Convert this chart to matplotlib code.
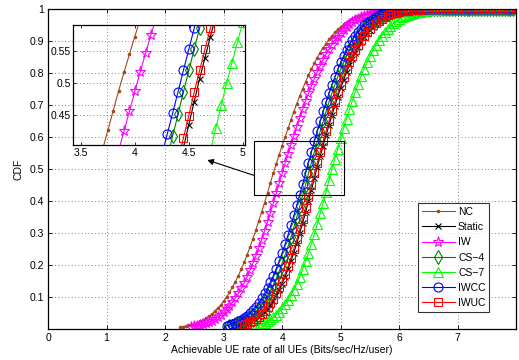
import numpy as np
import matplotlib
matplotlib.use("Agg")
import matplotlib.pyplot as plt
from matplotlib.patches import Rectangle

plt.rcParams['font.family'] = ['Liberation Sans', 'DejaVu Sans']

# ---------------- data (CDF values on a 0.05 rate grid) ----------------
step = 0.05
labels = ["NC", "Static", "IW", "CS\u22124", "CS\u22127", "IWCC", "IWUC"]

nc_start = 2.25
nc_cdf = [
    0.006, 0.007, 0.009, 0.011, 0.013, 0.016, 0.020, 0.024, 0.028, 0.034,
    0.040, 0.047, 0.056, 0.065, 0.075, 0.087, 0.100, 0.115, 0.130, 0.148,
    0.166, 0.187, 0.208, 0.231, 0.256, 0.282, 0.309, 0.337, 0.366, 0.395,
    0.426, 0.457, 0.488,
    0.517, 0.545, 0.573, 0.600, 0.627, 0.653, 0.679, 0.704, 0.728, 0.751,
    0.772, 0.793, 0.813, 0.831, 0.848, 0.864, 0.879, 0.892, 0.905, 0.916,
    0.927, 0.936, 0.944, 0.952, 0.958, 0.964, 0.970, 0.974, 0.978, 0.982,
    0.984, 0.987, 0.989, 0.991, 0.993, 0.994, 0.995, 0.996, 0.997, 0.997,
    0.998, 0.998, 0.999, 0.999, 0.999, 0.999,
    1.0, 1.0, 1.0, 1.0, 1.0, 1.0, 1.0, 1.0, 1.0, 1.0,
    1.0, 1.0, 1.0, 1.0, 1.0, 1.0, 1.0, 1.0, 1.0, 1.0,
    1.0, 1.0, 1.0, 1.0, 1.0, 1.0, 1.0, 1.0, 1.0, 1.0,
    1.0, 1.0, 1.0, 1.0, 1.0, 1.0,
]

static_start = 3.30
static_cdf = [
    0.010, 0.012, 0.015, 0.019, 0.024, 0.029, 0.036, 0.044, 0.053, 0.063,
    0.076, 0.089, 0.105, 0.122, 0.142, 0.163, 0.187, 0.212, 0.239, 0.268,
    0.299, 0.331, 0.365, 0.399, 0.435, 0.471,
    0.507, 0.540, 0.573, 0.605, 0.637, 0.668, 0.697, 0.726, 0.753, 0.778,
    0.802, 0.825, 0.845, 0.864, 0.882, 0.897, 0.912, 0.924, 0.935, 0.945,
    0.954, 0.961, 0.968, 0.973, 0.978, 0.982, 0.986, 0.988, 0.991, 0.993,
    0.994, 0.995, 0.996, 0.997, 0.998, 0.998, 0.999, 0.999, 0.999, 0.999,
    1.0, 1.0, 1.0, 1.0, 1.0, 1.0, 1.0, 1.0, 1.0, 1.0,
    1.0, 1.0, 1.0, 1.0, 1.0, 1.0, 1.0, 1.0, 1.0, 1.0,
    1.0, 1.0, 1.0, 1.0, 1.0, 1.0, 1.0, 1.0,
]

iw_start = 2.45
iw_cdf = [
    0.006, 0.008, 0.010, 0.012, 0.015, 0.018, 0.022, 0.026, 0.032, 0.038,
    0.045, 0.053, 0.062, 0.072, 0.084, 0.097, 0.111, 0.127, 0.144, 0.163,
    0.183, 0.205, 0.228, 0.252, 0.279, 0.306, 0.334, 0.364, 0.394, 0.425,
    0.456, 0.487,
    0.518, 0.547, 0.576, 0.604, 0.632, 0.660, 0.686, 0.712, 0.736, 0.760,
    0.782, 0.803, 0.823, 0.841, 0.859, 0.874, 0.889, 0.902, 0.914, 0.925,
    0.935, 0.944, 0.952, 0.959, 0.965, 0.970, 0.975, 0.979, 0.982, 0.985,
    0.988, 0.990, 0.992, 0.993, 0.995, 0.996, 0.997, 0.998, 0.998, 0.999,
    0.999, 0.999, 0.999, 0.999,
    1.0, 1.0, 1.0, 1.0, 1.0, 1.0, 1.0, 1.0, 1.0, 1.0,
    1.0, 1.0, 1.0, 1.0, 1.0, 1.0, 1.0, 1.0, 1.0, 1.0,
    1.0, 1.0, 1.0, 1.0, 1.0, 1.0, 1.0, 1.0, 1.0, 1.0,
    1.0, 1.0, 1.0, 1.0, 1.0,
]

cs4_start = 3.10
cs4_cdf = [
    0.008, 0.010, 0.013, 0.016, 0.020, 0.025, 0.030, 0.037, 0.044, 0.053,
    0.064, 0.075, 0.088, 0.103, 0.120, 0.138, 0.159, 0.181, 0.205, 0.231,
    0.258, 0.287, 0.318, 0.350, 0.383, 0.417, 0.451, 0.486,
    0.520, 0.553, 0.586, 0.618, 0.649, 0.680, 0.709, 0.737, 0.763, 0.788,
    0.811, 0.833, 0.853, 0.871, 0.888, 0.903, 0.917, 0.929, 0.939, 0.949,
    0.957, 0.964, 0.970, 0.975, 0.980, 0.984, 0.987, 0.989, 0.991, 0.993,
    0.995, 0.996, 0.997, 0.997, 0.998, 0.998, 0.999, 0.999, 0.999,
    1.0, 1.0, 1.0, 1.0, 1.0, 1.0, 1.0, 1.0, 1.0, 1.0,
    1.0, 1.0, 1.0, 1.0, 1.0, 1.0, 1.0, 1.0, 1.0, 1.0,
    1.0, 1.0, 1.0, 1.0, 1.0, 1.0, 1.0, 1.0, 1.0, 1.0,
    1.0,
]

cs7_start = 3.50
cs7_cdf = [
    0.008, 0.010, 0.013, 0.016, 0.020, 0.025, 0.030, 0.037, 0.045, 0.054,
    0.065, 0.077, 0.090, 0.106, 0.123, 0.142, 0.163, 0.186, 0.211, 0.238,
    0.266, 0.296, 0.328, 0.361, 0.394, 0.429, 0.465,
    0.500, 0.532, 0.564, 0.596, 0.627, 0.657, 0.686, 0.714, 0.741, 0.766,
    0.790, 0.813, 0.833, 0.853, 0.871, 0.887, 0.902, 0.915, 0.927, 0.937,
    0.947, 0.955, 0.962, 0.968, 0.974, 0.978, 0.982, 0.985, 0.988, 0.990,
    0.992, 0.994, 0.995, 0.996, 0.997, 0.998, 0.998, 0.999, 0.999, 0.999,
    0.999, 0.999,
    1.0, 1.0, 1.0, 1.0, 1.0, 1.0, 1.0, 1.0, 1.0, 1.0,
    1.0, 1.0, 1.0, 1.0, 1.0, 1.0, 1.0, 1.0, 1.0, 1.0,
    1.0,
]

iwcc_start = 3.05
iwcc_cdf = [
    0.010, 0.013, 0.016, 0.019, 0.024, 0.029, 0.035, 0.042, 0.050, 0.060,
    0.070, 0.082, 0.096, 0.111, 0.128, 0.147, 0.167, 0.189, 0.213, 0.238,
    0.265, 0.294, 0.324, 0.355, 0.387, 0.420, 0.453, 0.486,
    0.520, 0.553, 0.586, 0.618, 0.649, 0.680, 0.709, 0.737, 0.763, 0.788,
    0.811, 0.833, 0.853, 0.871, 0.888, 0.903, 0.917, 0.929, 0.939, 0.949,
    0.957, 0.964, 0.970, 0.975, 0.980, 0.984, 0.987, 0.989, 0.991, 0.993,
    0.995, 0.996, 0.997, 0.997, 0.998, 0.998, 0.999, 0.999, 0.999,
    1.0, 1.0, 1.0, 1.0, 1.0, 1.0, 1.0, 1.0, 1.0, 1.0,
    1.0, 1.0, 1.0, 1.0, 1.0, 1.0, 1.0, 1.0, 1.0, 1.0,
    1.0, 1.0, 1.0, 1.0, 1.0, 1.0, 1.0, 1.0, 1.0, 1.0,
    1.0, 1.0,
]

iwuc_start = 3.30
iwuc_cdf = [
    0.011, 0.013, 0.017, 0.021, 0.026, 0.032, 0.039, 0.047, 0.057, 0.068,
    0.081, 0.095, 0.112, 0.130, 0.150, 0.172, 0.196, 0.223, 0.251, 0.280,
    0.312, 0.345, 0.379, 0.414, 0.449, 0.486,
    0.520, 0.553, 0.586, 0.618, 0.649, 0.680, 0.709, 0.737, 0.763, 0.788,
    0.811, 0.833, 0.853, 0.871, 0.888, 0.903, 0.917, 0.929, 0.939, 0.949,
    0.957, 0.964, 0.970, 0.975, 0.980, 0.984, 0.987, 0.989, 0.991, 0.993,
    0.995, 0.996, 0.997, 0.997, 0.998, 0.998, 0.999, 0.999, 0.999,
    1.0, 1.0, 1.0, 1.0, 1.0, 1.0, 1.0, 1.0, 1.0, 1.0,
    1.0, 1.0, 1.0, 1.0, 1.0, 1.0, 1.0, 1.0, 1.0, 1.0,
    1.0, 1.0, 1.0, 1.0, 1.0, 1.0, 1.0, 1.0, 1.0,
]

xticks_main = [0, 1, 2, 3, 4, 5, 6, 7]
yticks_main = [0.1, 0.2, 0.3, 0.4, 0.5, 0.6, 0.7, 0.8, 0.9, 1.0]
ytick_labels_main = ["0.1", "0.2", "0.3", "0.4", "0.5", "0.6", "0.7", "0.8", "0.9", "1"]
xticks_inset = [3.5, 4.0, 4.5, 5.0]
xtick_labels_inset = ["3.5", "4", "4.5", "5"]
yticks_inset = [0.45, 0.5, 0.55]
ytick_labels_inset = ["0.45", "0.5", "0.55"]

zoom_x = (3.52, 5.06)
zoom_y = (0.419, 0.588)
inset_xlim = (3.43, 5.02)
inset_ylim = (0.403, 0.591)

series = [
    (nc_start, nc_cdf),
    (static_start, static_cdf),
    (iw_start, iw_cdf),
    (cs4_start, cs4_cdf),
    (cs7_start, cs7_cdf),
    (iwcc_start, iwcc_cdf),
    (iwuc_start, iwuc_cdf),
]

styles = [
    dict(color="#A34A1C", marker=".", ms=3.5, mfc="#A34A1C"),
    dict(color="black", marker="x", ms=4.5, mfc="none"),
    dict(color="#FF00FF", marker="*", ms=8, mfc="none"),
    dict(color="#008000", marker="d", ms=7, mfc="none"),
    dict(color="#00FF00", marker="^", ms=6.5, mfc="none"),
    dict(color="#0000FF", marker="o", ms=6.5, mfc="none"),
    dict(color="#FF0000", marker="s", ms=5.5, mfc="none"),
]

FS = 7.5

# ---------------- figure ----------------
fig = plt.figure(figsize=(5.19, 3.60), dpi=100)
ax = fig.add_axes([0.0925, 0.0861, 0.9023, 0.8889])

grid_kw = dict(color="0.35", linestyle=(0, (1, 3)), linewidth=0.6)

for (x0, vals), lab, st in zip(series, labels, styles):
    xs = x0 + step * np.arange(len(vals))
    ax.plot(xs, vals, label=lab, lw=0.8, mew=0.8, color=st["color"],
            marker=st["marker"], ms=st["ms"], mfc=st["mfc"], mec=st["color"])

ax.set_xlim(0, 8)
ax.set_ylim(0, 1)
ax.set_xticks(xticks_main)
ax.set_xticklabels([str(t) for t in xticks_main])
ax.set_yticks(yticks_main)
ax.set_yticklabels(ytick_labels_main)
ax.tick_params(direction="in", length=3, width=0.6, top=True, right=True,
               labelsize=FS, pad=3)
ax.grid(True, **grid_kw)
for sp in ax.spines.values():
    sp.set_linewidth(0.9)
ax.set_xlabel("Achievable UE rate of all UEs (Bits/sec/Hz/user)", fontsize=FS, labelpad=1)
ax.set_ylabel("CDF", fontsize=FS, labelpad=4)

leg = ax.legend(loc="upper left", bbox_to_anchor=(0.790, 0.393), fontsize=FS,
                frameon=True, fancybox=False, edgecolor="black",
                handlelength=3.2, handletextpad=0.3, borderpad=0.35,
                labelspacing=0.5, borderaxespad=0.0)
leg.get_frame().set_linewidth(0.8)

# zoom rectangle
ax.add_patch(Rectangle((zoom_x[0], zoom_y[0]), zoom_x[1] - zoom_x[0],
                       zoom_y[1] - zoom_y[0], fill=False, ec="black", lw=0.8, zorder=5))
# arrow from rectangle to inset
ax.annotate("", xy=(2.72, 0.528), xytext=(zoom_x[0], 0.48),
            arrowprops=dict(arrowstyle="-|>", color="black", lw=0.8,
                            mutation_scale=9, shrinkA=0, shrinkB=0), zorder=6)

# ---------------- inset ----------------
axi = fig.add_axes([0.1412, 0.5972, 0.3308, 0.3333])
axi.patch.set_alpha(0.0)
for (x0, vals), lab, st in zip(series, labels, styles):
    xs = x0 + step * np.arange(len(vals))
    axi.plot(xs, vals, lw=0.8, mew=0.8, color=st["color"],
             marker=st["marker"], ms=st["ms"], mfc=st["mfc"], mec=st["color"])
axi.set_xlim(*inset_xlim)
axi.set_ylim(*inset_ylim)
axi.set_xticks(xticks_inset)
axi.set_xticklabels(xtick_labels_inset)
axi.set_yticks(yticks_inset)
axi.set_yticklabels(ytick_labels_inset)
axi.tick_params(direction="in", length=2.5, width=0.6, top=True, right=True,
                labelsize=FS, pad=2)
axi.grid(True, axis="y", **grid_kw)
for sp in axi.spines.values():
    sp.set_linewidth(0.9)

fig.savefig("out.png", dpi=100)
